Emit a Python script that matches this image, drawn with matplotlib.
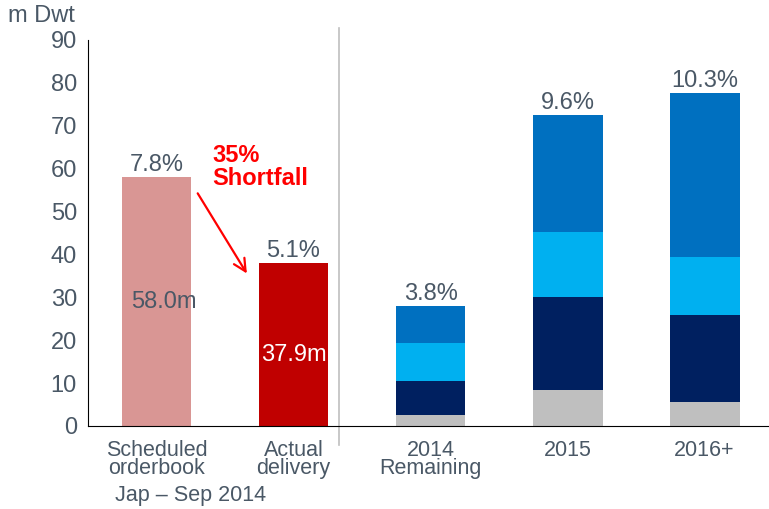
import matplotlib.pyplot as plt
import numpy as np

plt.rcParams['font.family'] = ['Liberation Sans', 'DejaVu Sans']

categories = ['Scheduled\norderbook', 'Actual\ndelivery', '2014\nRemaining', '2015', '2016+']
single_values = [58.0, 37.9]
single_labels = ['58.0m', '37.9m']
pct_labels = ['7.8%', '5.1%', '3.8%', '9.6%', '10.3%']

# stacked segments for the forward years, bottom to top
seg_gray = [2.6, 8.3, 5.7]
seg_navy = [8.0, 21.8, 20.2]
seg_light = [8.7, 15.2, 13.5]
seg_blue = [8.7, 27.1, 38.2]

text_col = '#4a5866'
colors_single = ['#d99694', '#c00000']
seg_colors = ['#bfbfbf', '#002060', '#00b0f0', '#0070c0']

fig = plt.figure(figsize=(7.69, 5.09), dpi=100)
ax = fig.add_axes([88 / 769, 1 - 426 / 509, 1 - 88 / 769, (426 - 40) / 509])

x = np.arange(len(categories))
w = 0.51

ax.bar(x[:2], single_values, width=w, color=colors_single)
bottom = np.zeros(3)
for vals, c in zip([seg_gray, seg_navy, seg_light, seg_blue], seg_colors):
    ax.bar(x[2:], vals, width=w, bottom=bottom, color=c)
    bottom += np.array(vals)

totals = list(single_values) + list(bottom)
for xi, t, lab in zip(x, totals, pct_labels):
    ax.annotate(lab, (xi, t), xytext=(0, 1), textcoords='offset points',
                ha='center', va='bottom', fontsize=17, color=text_col)

ax.text(x[0] + 0.05, 29, single_labels[0], ha='center', va='center', fontsize=17, color=text_col)
ax.text(x[1], 16.5, single_labels[1], ha='center', va='center', fontsize=17, color='white')

# shortfall annotation
ax.text(0.41, 60.3, '35%\nShortfall', color='#ff0000', fontsize=17, fontweight='bold',
        ha='left', va='center', linespacing=1.0)
ax.annotate('', xy=(0.67, 35), xytext=(0.29, 54.8),
            arrowprops=dict(arrowstyle='->', color='#ff0000', lw=1.6, mutation_scale=22))

# divider between actual and forecast
ax.plot([1.33, 1.33], [-4.4, 92.8], color='#bfbfbf', lw=1.2, clip_on=False)

ax.set_xlim(-0.5, 4.47)
ax.set_ylim(0, 90)
ax.set_yticks(range(0, 91, 10))
ax.set_xticks(x)
ax.set_xticklabels(categories, linespacing=0.8, fontsize=15.5)
ax.tick_params(axis='y', length=0, labelsize=17, labelcolor=text_col, pad=8)
ax.tick_params(axis='x', length=0, labelcolor=text_col, pad=10)
for s in ['top', 'right']:
    ax.spines[s].set_visible(False)
ax.spines['left'].set_color('black')
ax.spines['bottom'].set_color('black')

fig.text(8 / 769, 1 - 16 / 509, 'm Dwt', fontsize=17, color=text_col, va='center', ha='left')
fig.text(191 / 769, 1 - 495 / 509, 'Jap – Sep 2014', fontsize=15.5, color=text_col, va='center',
         ha='center')

fig.savefig('out.png', dpi=100)
